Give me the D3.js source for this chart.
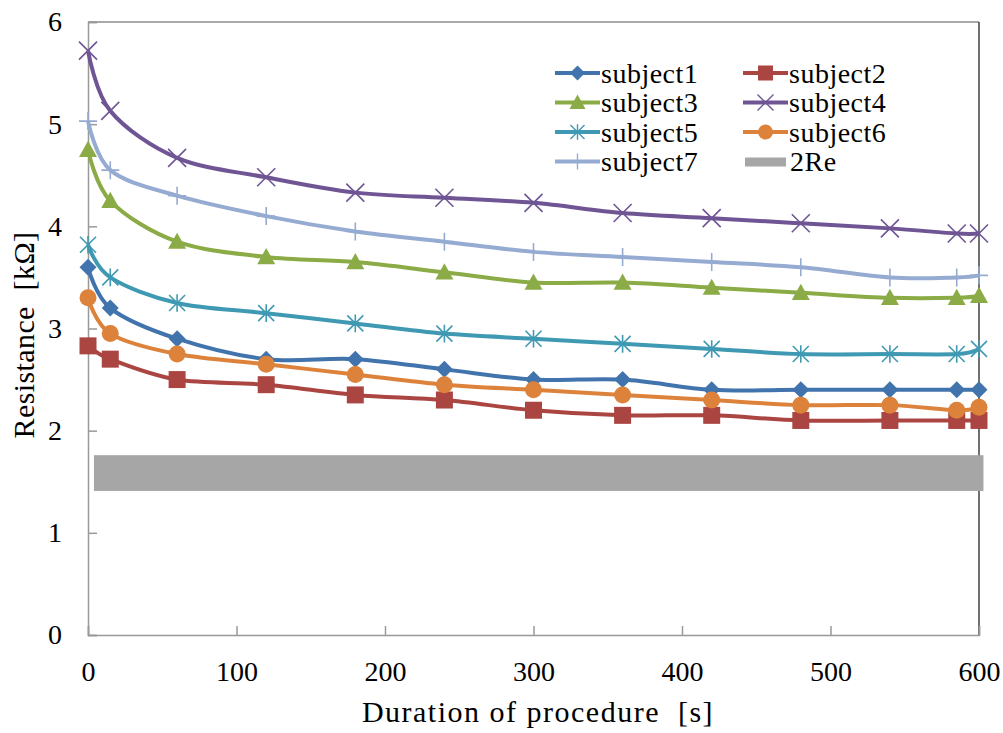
<!DOCTYPE html>
<html>
<head>
<meta charset="utf-8">
<script src="https://cdn.jsdelivr.net/npm/d3@7"></script>
<style>
  html, body { margin: 0; padding: 0; background: #fff; }
  svg { display: block; }
  svg text { font-family: "Liberation Serif", "DejaVu Serif", serif !important; }
</style>
</head>
<body>
<svg id="chart" width="1003" height="733"></svg>
<script>
// temps de mesure (s)
const times = [0, 15, 60, 120, 180, 240, 300, 360, 420, 480, 540, 585, 600];

const subject1 = [3.6, 3.2, 2.9, 2.7, 2.7, 2.6, 2.5, 2.5, 2.4, 2.4, 2.4, 2.4, 2.4];
const subject2 = [2.83, 2.7, 2.5, 2.45, 2.35, 2.3, 2.2, 2.15, 2.15, 2.1, 2.1, 2.1, 2.1];
const subject3 = [4.75, 4.25, 3.85, 3.7, 3.65, 3.55, 3.45, 3.45, 3.4, 3.35, 3.3, 3.3, 3.32];
const subject4 = [5.72, 5.13, 4.67, 4.48, 4.33, 4.28, 4.23, 4.13, 4.08, 4.03, 3.98, 3.93, 3.93];
const subject5 = [3.82, 3.5, 3.25, 3.15, 3.05, 2.95, 2.9, 2.85, 2.8, 2.75, 2.75, 2.75, 2.8];
const subject6 = [3.3, 2.95, 2.75, 2.65, 2.55, 2.45, 2.4, 2.35, 2.3, 2.25, 2.25, 2.2, 2.23];
const subject7 = [5.03, 4.55, 4.3, 4.1, 3.95, 3.85, 3.75, 3.7, 3.65, 3.6, 3.5, 3.5, 3.52];

// bande 2Re : [début, fin] en s, [bas, haut] en kΩ
const band2ReX = [4, 603];
const band2ReY = [1.41, 1.76];

const xTicks = [0, 100, 200, 300, 400, 500, 600];
const yTicks = [0, 1, 2, 3, 4, 5, 6];

const seriesNames = ['subject1', 'subject2', 'subject3', 'subject4', 'subject5', 'subject6', 'subject7'];
const seriesValues = [subject1, subject2, subject3, subject4, subject5, subject6, subject7];
const seriesColors = ['#4173AC', '#AA4542', '#8BAB47', '#6F5594', '#3F99B2', '#DD823B', '#95ABD1'];
const seriesMarkers = ['diamond', 'square', 'triangle', 'x', 'star', 'circle', 'plus'];

const svg = d3.select('#chart');
const L = 88, R = 979, T = 22, B = 635;

const x = d3.scaleLinear().domain([0, 600]).range([L, R]);
const y = d3.scaleLinear().domain([0, 6]).range([B, T]);

// cadre
svg.append('line').attr('x1', L).attr('x2', R).attr('y1', T).attr('y2', T).attr('stroke', '#8c8c8c').attr('stroke-width', 1.5);
svg.append('line').attr('x1', R).attr('x2', R).attr('y1', T).attr('y2', B).attr('stroke', '#404040').attr('stroke-width', 1.5);

// bande 2Re
svg.append('rect')
  .attr('x', x(band2ReX[0])).attr('width', x(band2ReX[1]) - x(band2ReX[0]))
  .attr('y', y(band2ReY[1])).attr('height', y(band2ReY[0]) - y(band2ReY[1]))
  .attr('fill', '#A6A6A6');

// axes
const gx = svg.append('g').attr('transform', `translate(0,${B})`)
  .call(d3.axisBottom(x).tickValues(xTicks).tickSize(-9).tickPadding(26).tickFormat(d3.format('d')));
const gy = svg.append('g').attr('transform', `translate(${L},0)`)
  .call(d3.axisLeft(y).tickValues(yTicks).tickSize(-9).tickPadding(26).tickFormat(d3.format('d')));
[gx, gy].forEach(g => {
  g.attr('font-family', null);
  g.select('.domain').attr('stroke', '#999').attr('stroke-width', 1.5);
  g.selectAll('.tick line').attr('stroke', '#999').attr('stroke-width', 1.5);
  g.selectAll('.tick text').attr('fill', '#000').attr('font-size', 28);
});
gx.selectAll('.tick text').attr('dy', '0.71em');

// titres
svg.append('text').attr('x', 538).attr('y', 722).attr('text-anchor', 'middle')
  .attr('font-size', 30).attr('letter-spacing', 1.5).text('Duration of procedure\u00a0\u00a0[s]');
svg.append('text').attr('transform', `translate(34,335) rotate(-90)`).attr('text-anchor', 'middle')
  .attr('font-size', 30).attr('letter-spacing', 0.4).text('Resistance\u00a0\u00a0[kΩ]');

function markerPath(type, s) {
  const h = s / 2;
  switch (type) {
    case 'diamond': return `M0,${-h}L${h},0L0,${h}L${-h},0Z`;
    case 'square': return `M${-h},${-h}H${h}V${h}H${-h}Z`;
    case 'triangle': return `M0,${-h}L${h},${h * 0.8}L${-h},${h * 0.8}Z`;
    case 'x': return `M${-h},${-h}L${h},${h}M${-h},${h}L${h},${-h}`;
    case 'plus': return `M${-h},0H${h}M0,${-h}V${h}`;
    case 'star': return `M${-h},${-h}L${h},${h}M${-h},${h}L${h},${-h}M0,${-h * 1.1}V${h * 1.1}`;
    default: return d3.symbol(d3.symbolCircle, Math.PI * h * h)();
  }
}
const isStroke = t => t === 'x' || t === 'plus' || t === 'star';
const sizeOf = { diamond: 17, square: 17, triangle: 18, x: 18, plus: 18, star: 16, circle: 17 };

const line = d3.line().x(d => x(d[0])).y(d => y(d[1])).curve(d3.curveCatmullRom.alpha(0));

seriesValues.forEach((vals, i) => {
  const pts = times.map((t, j) => [t, vals[j]]);
  const col = seriesColors[i], mk = seriesMarkers[i];
  const g = svg.append('g');
  g.append('path').attr('d', line(pts)).attr('fill', 'none').attr('stroke', col).attr('stroke-width', 4);
  g.selectAll('path.mk').data(pts).enter().append('path').attr('class', 'mk')
    .attr('transform', d => `translate(${x(d[0])},${y(d[1])})`)
    .attr('d', markerPath(mk, sizeOf[mk]))
    .attr('fill', isStroke(mk) ? 'none' : col)
    .attr('stroke', col).attr('stroke-width', isStroke(mk) ? 1.6 : 0);
});

// légende
const legendItems = seriesNames.map((n, i) => ({ name: n, color: seriesColors[i], marker: seriesMarkers[i] }))
  .concat([{ name: '2Re', color: '#A6A6A6', marker: 'band' }]);
const colX = [555, 743], rowY = [73, 102.5, 132, 161.5];
legendItems.forEach((d, i) => {
  const lx = colX[i % 2], ly = rowY[Math.floor(i / 2)];
  const g = svg.append('g').attr('transform', `translate(${lx},${ly})`);
  if (d.marker === 'band') {
    g.append('rect').attr('x', 2).attr('y', -4).attr('width', 41).attr('height', 9).attr('fill', d.color);
    g.append('text').attr('x', 47).attr('y', 0).attr('dy', '0.35em').attr('font-size', 28).attr('letter-spacing', 0.5).text(d.name);
    return;
  }
  g.append('line').attr('x1', 0).attr('x2', 45).attr('stroke', d.color).attr('stroke-width', 4);
  g.append('path').attr('transform', 'translate(22.5,0)').attr('d', markerPath(d.marker, sizeOf[d.marker] - 2))
    .attr('fill', isStroke(d.marker) ? 'none' : d.color)
    .attr('stroke', d.color).attr('stroke-width', isStroke(d.marker) ? 1.4 : 0);
  g.append('text').attr('x', 46).attr('y', 0).attr('dy', '0.35em').attr('font-size', 28).attr('letter-spacing', 0.5).text(d.name);
});
</script>
</body>
</html>
